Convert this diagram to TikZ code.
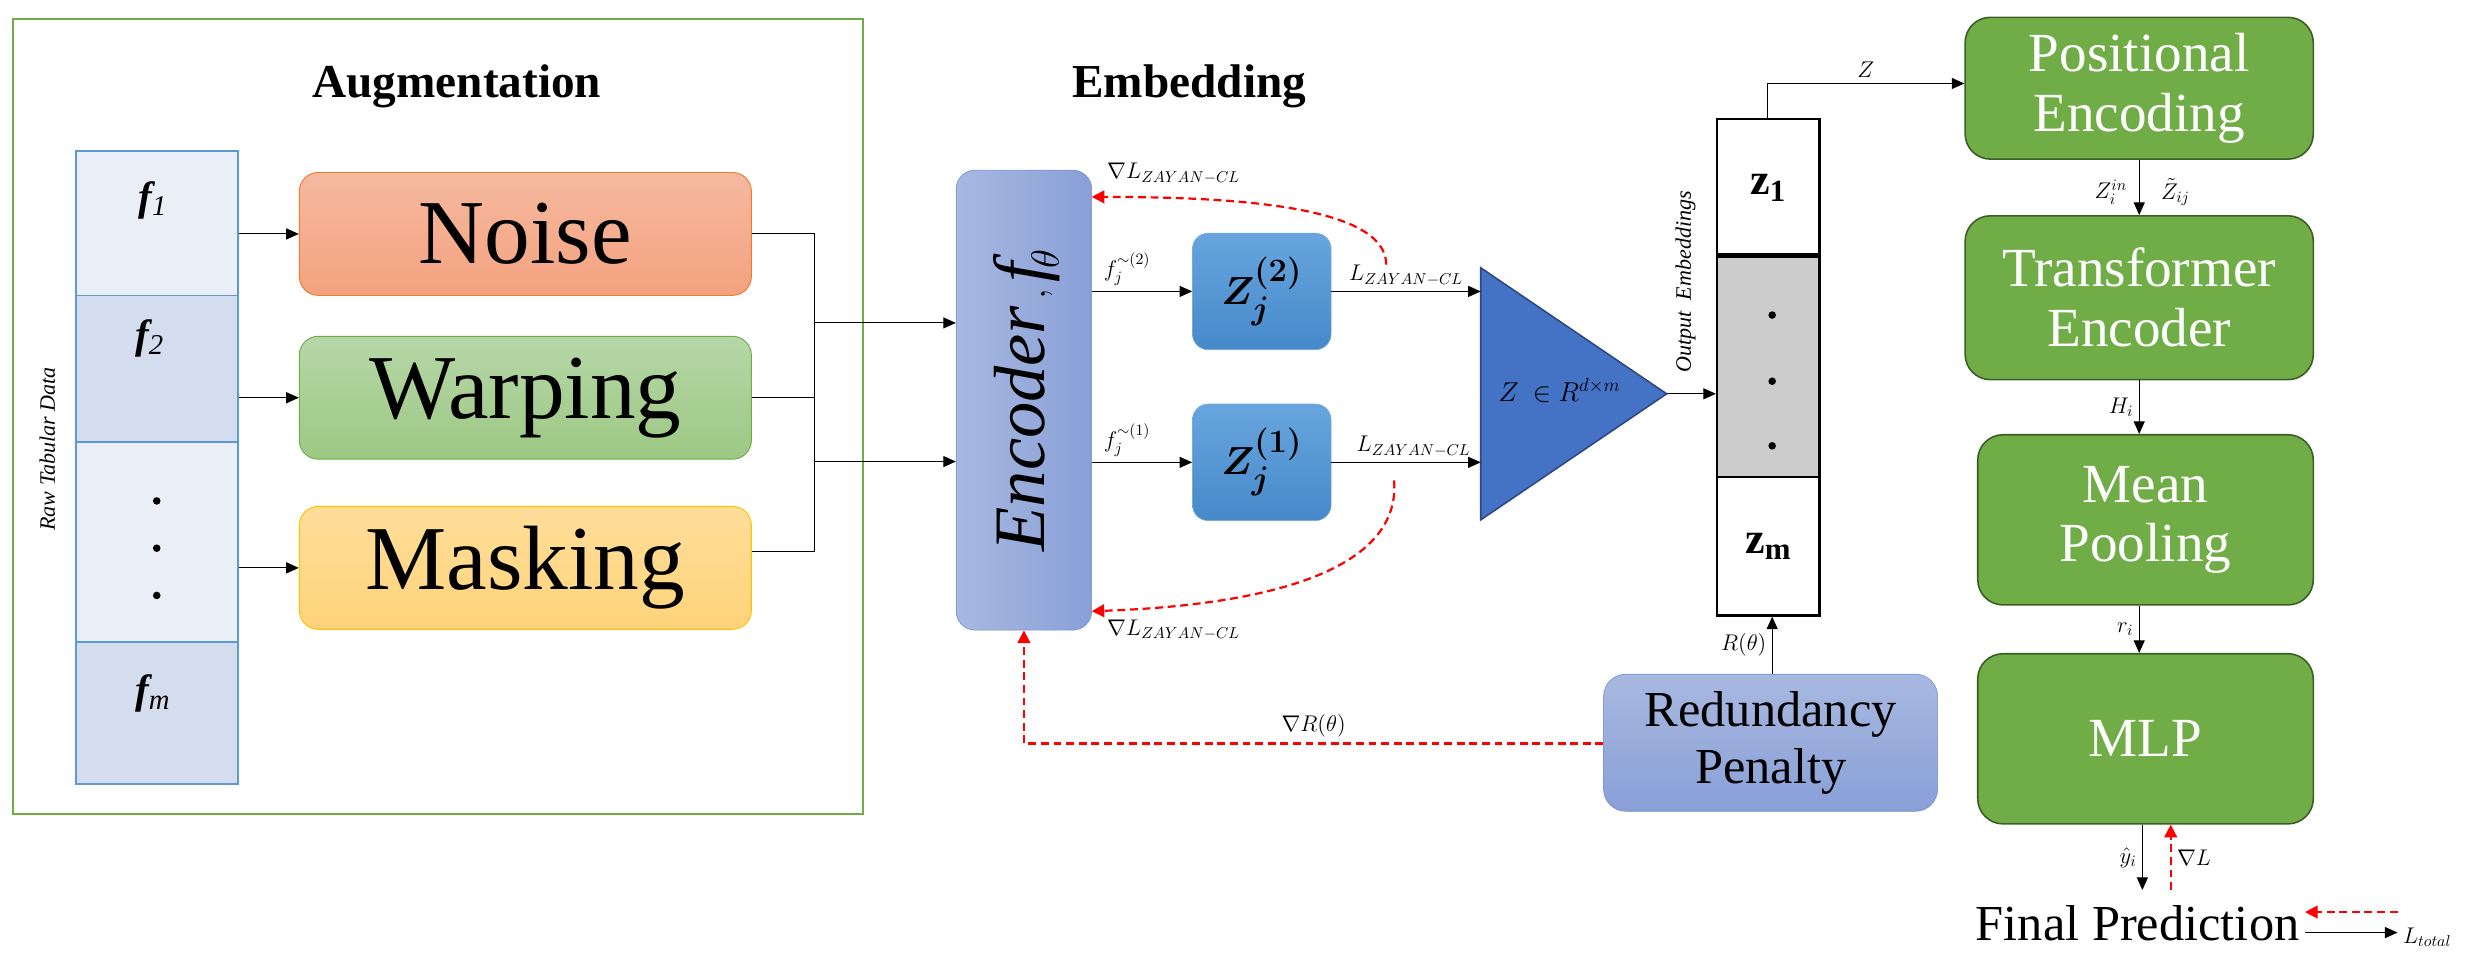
\documentclass[tikz,border=0pt]{standalone}
\usepackage{fontspec}
\setmainfont{Liberation Serif}
\usepackage{amsmath}
\usetikzlibrary{arrows.meta,calc}
\definecolor{gframe}{HTML}{70AD47}
\definecolor{tblue}{HTML}{5B9BD5}
\definecolor{gbox}{HTML}{70AD47}
\definecolor{gdark}{HTML}{3B5E26}
\begin{document}
\begin{tikzpicture}[x=1pt,y=-1pt,
  arr/.style={-{Triangle[length=8pt,width=7pt]},line width=0.7pt},
  grad/.style={-{Triangle[length=8pt,width=8pt]},draw=red,line width=1.6pt,dash pattern=on 5pt off 3pt},
  cell/.style={draw=tblue,line width=1.2pt,minimum width=103pt,inner sep=0pt},
  aug/.style={rounded corners=12pt,minimum width=287pt,minimum height=78pt,line width=0.6pt,font=\fontsize{58}{60}\selectfont},
  zbox/.style={rounded corners=10pt,minimum width=88pt,minimum height=74pt,top color={rgb,255:red,104;green,165;blue,222},bottom color={rgb,255:red,70;green,137;blue,202},draw={rgb,255:red,120;green,170;blue,220}},
  gb/.style={rounded corners=16pt,fill=gbox,draw=gdark,line width=1pt,text=white,align=center,font=\fontsize{35}{38}\selectfont},
  lab/.style={font=\fontsize{14}{15}\selectfont},
  colc/.style={draw=black,line width=1.4pt,minimum width=65pt,inner sep=0pt}]
\useasboundingbox (0,0) rectangle (1568,613);
\fill[white] (0,0) rectangle (1568,613);
% frame
\draw[gframe,line width=1.2pt] (8,12) rectangle (548,517);
\node[font=\fontsize{30}{32}\selectfont\bfseries] (augt) at (290,55) {Augmentation};
\node[font=\fontsize{30}{32}\selectfont\bfseries] (embt) at (755,55) {Embedding};
% table
\node[cell,fill={rgb,255:red,233;green,238;blue,247},minimum height=92pt,anchor=north] (r1) at (99.5,95) {};
\node[cell,fill={rgb,255:red,211;green,221;blue,238},minimum height=93pt,anchor=north] (r2) at (99.5,187) {};
\node[cell,fill={rgb,255:red,233;green,238;blue,247},minimum height=127pt,anchor=north] (r3) at (99.5,280) {};
\node[cell,fill={rgb,255:red,211;green,221;blue,238},minimum height=90pt,anchor=north] (r4) at (99.5,407) {};
\node[font=\fontsize{26}{28}\selectfont\bfseries\itshape] (f1) at (97,127) {f\textsubscript{\normalfont\itshape 1}};
\node[font=\fontsize{26}{28}\selectfont\bfseries\itshape] (f2) at (95,215) {f\textsubscript{\normalfont\itshape 2}};
\node[font=\fontsize{26}{28}\selectfont\bfseries\itshape] (fm) at (97,440) {f\textsubscript{\normalfont\itshape m}};
\foreach \yy in {318,348,378} \fill (99.5,\yy) circle (2.4pt);
\node[rotate=90,font=\fontsize{14}{15}\selectfont\itshape] (raw) at (30,285) {Raw Tabular Data};
% augmentation boxes
\node[aug,top color={rgb,255:red,245;green,185;blue,160},bottom color={rgb,255:red,244;green,162;blue,126},draw={rgb,255:red,237;green,125;blue,49}] (noise) at (333.5,148.5) {Noise};
\node[aug,top color={rgb,255:red,182;green,215;blue,168},bottom color={rgb,255:red,157;green,200;blue,131},draw={rgb,255:red,112;green,173;blue,71}] (warp) at (333.5,252.5) {Warping};
\node[aug,top color={rgb,255:red,255;green,222;blue,154},bottom color={rgb,255:red,255;green,211;blue,122},draw={rgb,255:red,255;green,192;blue,0}] (mask) at (333.5,360.5) {Masking};
\draw[arr] (r1.east |- noise) -- (noise.west);
\draw[arr] (r2.east |- warp) -- (warp.west);
\draw[arr] (r3.east |- mask) -- (mask.west);
\coordinate (jt) at (517,148.5);
\coordinate (jb) at (517,350);
\coordinate (ja) at (517,205);
\coordinate (jc) at (517,293);
\draw[line width=0.7pt] (noise.east) -- (jt) -- (jb) -- ($(mask.east)+(0,-10.5)$);
\draw[line width=0.7pt] (warp.east) -- (warp.east -| jt);
% encoder
\node[rounded corners=12pt,minimum width=86pt,minimum height=292pt,left color={rgb,255:red,168;green,185;blue,224},right color={rgb,255:red,137;green,159;blue,215},draw={rgb,255:red,114;green,144;blue,210}] (enc) at (650,254) {};
\node[rotate=90,font=\fontsize{46}{48}\selectfont] (enct) at (652,254) {$\mathit{Encoder}\,,\mathit{f}\!_{\theta}$};
\draw[arr] (ja) -- (ja -| enc.west);
\draw[arr] (jc) -- (jc -| enc.west);
% Z boxes
\node[zbox] (z2) at (801,185) {\fontsize{32}{34}\selectfont$\boldsymbol{Z_j^{(2)}}$};
\node[zbox] (z1) at (801,293.5) {\fontsize{32}{34}\selectfont$\boldsymbol{Z_j^{(1)}}$};
\draw[arr] (enc.east |- z2) -- node[lab,above,pos=0.35] {$f_j^{\sim(2)}$} (z2.west);
\draw[arr] (enc.east |- z1) -- node[lab,above,pos=0.35] {$f_j^{\sim(1)}$} (z1.west);
% triangle
\coordinate (ta) at (940,170);
\coordinate (tb) at (940,330);
\coordinate (tc) at (1058,250);
\filldraw[fill={rgb,255:red,68;green,114;blue,196},draw={rgb,255:red,47;green,72;blue,130},line width=1pt] (ta) -- (tc) -- (tb) -- cycle;
\node[font=\fontsize{17}{18}\selectfont] (tt) at (990,248) {$Z\ \in R^{d\times m}$};
\draw[arr] (z2.east) -- node[lab,above] {$L_{ZAYAN-CL}$} (z2.east -| ta);
\draw[arr] (z1.east) -- node[lab,above,pos=0.55] {$L_{ZAYAN-CL}$} (z1.east -| ta);
% column
\node[colc,minimum height=87pt,anchor=north] (c1) at (1122.5,75) {\fontsize{28}{30}\selectfont$\mathbf{z_1}$};
\node[colc,fill={rgb,255:red,204;green,204;blue,204},minimum height=140pt,anchor=north] (c2) at (1122.5,162) {};
\node[colc,minimum height=88pt,anchor=north] (c3) at (1122.5,302) {\fontsize{28}{30}\selectfont$\mathbf{z_m}$};
\draw[line width=3pt] (c2.north west) -- (c2.north east);
\foreach \yy in {200,242,283} \fill (1125,\yy) circle (2.4pt);
\draw[arr] (tc) -- (tc -| c2.west);
\node[rotate=90,font=\fontsize{14}{15}\selectfont\itshape,anchor=west] (oe) at (1070,240) {Output\ \ Embeddings};
% redundancy
\node[rounded corners=14pt,minimum width=212pt,minimum height=87pt,top color={rgb,255:red,168;green,185;blue,224},bottom color={rgb,255:red,137;green,159;blue,215},draw={rgb,255:red,114;green,144;blue,210},align=center,font=\fontsize{32}{36}\selectfont] (rp) at (1124,471.5) {Redundancy\\Penalty};
\coordinate (rx) at (1125,0);
\draw[arr] (rp.north -| rx) -- node[lab,left] {$R(\theta)$} (c3.south -| rx);
\coordinate (rc) at (650,472);
\draw[grad] (rp.west |- rc) -- node[lab,above,text=black] {$\nabla R(\theta)$} (rc) -- (enc.south);
% gradient curves
\coordinate (g2) at (880,168);
\coordinate (g1) at (885,305);
\coordinate (e2) at (693,125);
\coordinate (e1) at (693,388);
\draw[grad,line width=1.4pt] (g2) .. controls (880,130) and (780,125) .. (e2);
\draw[grad,line width=1.4pt] (g1) .. controls (890,370) and (780,385) .. (e1);
\node[lab] (gl2) at (745,110) {$\nabla L_{ZAYAN-CL}$};
\node[lab] (gl1) at (745,400) {$\nabla L_{ZAYAN-CL}$};
% right stack
\node[gb,minimum width=221pt,minimum height=90pt] (pe) at (1358,56) {Positional\\Encoding};
\node[gb,minimum width=221pt,minimum height=104pt] (te) at (1358,189) {Transformer\\Encoder};
\node[gb,minimum width=213pt,minimum height=108pt] (mp) at (1362,330) {Mean\\Pooling};
\node[gb,minimum width=213pt,minimum height=108pt] (mlp) at (1362,469) {MLP};
\coordinate (zc) at (1122,53);
\coordinate (sx) at (1358,0);
\draw[line width=0.7pt] (c1.north -| zc) -- (zc);
\draw[arr] (zc) -- node[lab,above] {$Z$} (zc -| pe.west);
\draw[arr] (pe.south -| sx) -- (te.north -| sx);
\node[lab] (zin) at (1340,122) {$Z_i^{in}$};
\node[lab] (zt) at (1381,122) {$\tilde{Z}_{ij}$};
\draw[arr] (te.south -| sx) -- node[lab,left] {$H_i$} (mp.north -| sx);
\draw[arr] (mp.south -| sx) -- node[lab,left] {$r_i$} (mlp.north -| sx);
\node[font=\fontsize{32}{34}\selectfont,anchor=base] (fp) at (1357,597) {Final Prediction};
\coordinate (fa) at (1360,565);
\coordinate (fb) at (1378,565);
\draw[arr] (mlp.south -| fa) -- node[lab,left] {$\hat{y}_i$} (fa);
\draw[grad,line width=1.3pt] (fb) -- node[lab,right,text=black] {$\nabla L$} (mlp.south -| fb);
\coordinate (lr) at (1522,592);
\coordinate (lq) at (1522,579);
\draw[arr] (fp.east |- lr) -- (lr);
\draw[grad,line width=1.3pt] (lq) -- (fp.east |- lq);
\node[lab,anchor=west] (lt) at (1522,595) {$L_{total}$};
\end{tikzpicture}
\end{document}
